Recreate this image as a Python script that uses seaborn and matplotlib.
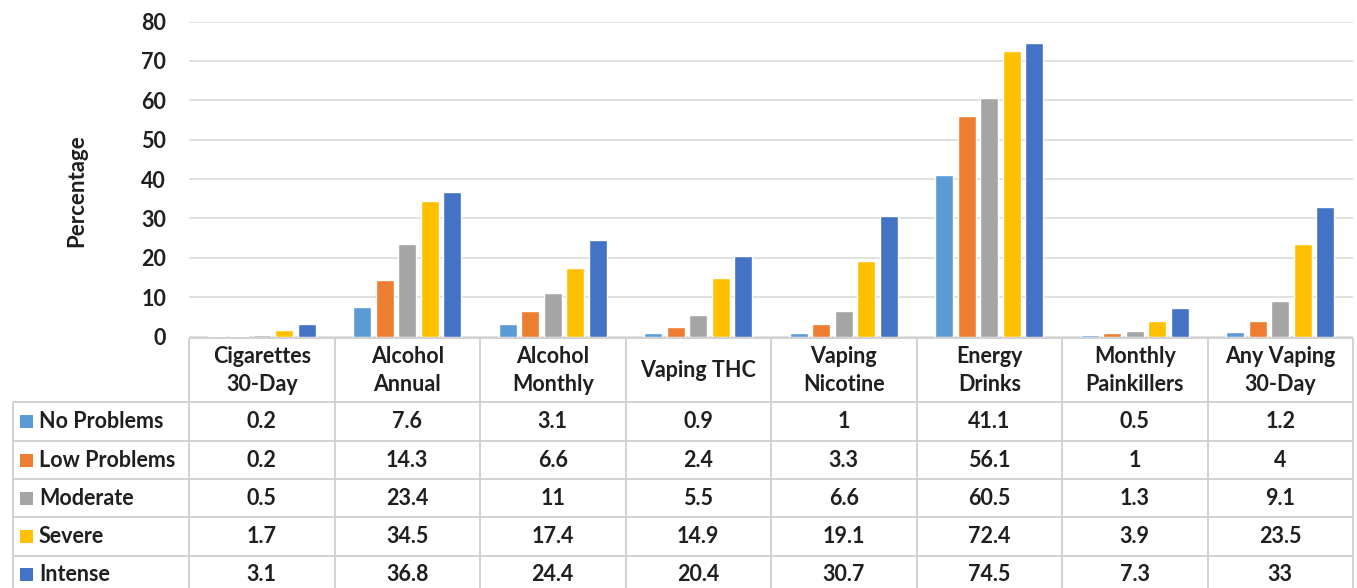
import matplotlib
matplotlib.use("Agg")
import matplotlib.pyplot as plt
from matplotlib.patches import Rectangle
import seaborn as sns
import pandas as pd

# ---- data -------------------------------------------------------------
categories = ["Cigarettes\n30-Day", "Alcohol\nAnnual", "Alcohol\nMonthly", "Vaping THC",
              "Vaping\nNicotine", "Energy\nDrinks", "Monthly\nPainkillers", "Any Vaping\n30-Day"]
groups = ["No Problems", "Low Problems", "Moderate", "Severe", "Intense"]

no_problems = [0.2, 7.6, 3.1, 0.9, 1, 41.1, 0.5, 1.2]
low_problems = [0.2, 14.3, 6.6, 2.4, 3.3, 56.1, 1, 4]
moderate = [0.5, 23.4, 11, 5.5, 6.6, 60.5, 1.3, 9.1]
severe = [1.7, 34.5, 17.4, 14.9, 19.1, 72.4, 3.9, 23.5]
intense = [3.1, 36.8, 24.4, 20.4, 30.7, 74.5, 7.3, 33]

y_ticks = [0, 10, 20, 30, 40, 50, 60, 70, 80]
y_label = "Percentage"

colors = ["#5B9BD5", "#ED7D31", "#A5A5A5", "#FFC000", "#4472C4"]

series = [no_problems, low_problems, moderate, severe, intense]
df = pd.DataFrame([
    {"category": c, "group": g, "pct": v}
    for g, vals in zip(groups, series)
    for c, v in zip(categories, vals)
])

# ---- style ------------------------------------------------------------
sns.set_theme(style="white")
plt.rcParams["font.family"] = ["Lato", "DejaVu Sans"]
plt.rcParams["font.weight"] = "bold"
TXT = "#1f1f1f"
FS = 15.5
GRID = "#D9D9D9"
BORDER = "#CFCFCF"

W, H = 1357, 588
fig = plt.figure(figsize=(W / 100, H / 100), dpi=100)

left_px, right_px = 189, 1353
base_px, top_px = 336.5, 21.5
ax = fig.add_axes([left_px / W, (H - base_px) / H,
                   (right_px - left_px) / W, (base_px - top_px) / H])

sns.barplot(data=df, x="category", y="pct", hue="group", hue_order=groups,
            order=categories, palette=colors, saturation=1, width=0.77, gap=0.2,
            legend=False, ax=ax, zorder=3)

ax.set_xlim(-0.5, len(categories) - 0.5)
ax.set_ylim(0, 80)
ax.set_yticks(y_ticks)
ax.set_yticklabels([str(t) for t in y_ticks], fontsize=FS, fontweight="bold", color=TXT)
ax.tick_params(axis="y", length=0, pad=16.5)
ax.set_xticks([])
ax.set_xlabel("")
ax.set_ylabel("")
for s in ax.spines.values():
    s.set_visible(False)
ax.yaxis.grid(True, color=GRID, linewidth=1.1, zorder=0)
ax.set_axisbelow(True)

fig.text(77 / W, 1 - 191 / H, y_label, rotation=90, ha="center", va="center",
         fontsize=FS + 0.5, fontweight="bold", color=TXT)

# ---- data table under the bars (pixel space overlay) -------------------
tab = fig.add_axes([0, 0, 1, 1])
tab.set_xlim(0, W)
tab.set_ylim(H, 0)
tab.axis("off")
tab.patch.set_alpha(0)

def col_px(x):
    return ax.transData.transform((x, 0))[0]

n = len(categories)
edges = [col_px(i - 0.5) for i in range(n + 1)]
centers = [col_px(i) for i in range(n)]
label_left = 12.7

header_top, header_bot = 337.5, 401.7
row_lines = [401.7, 441.0, 479.2, 517.4, 555.8, 594.0]

lk = dict(color=BORDER, linewidth=1.3, solid_capstyle="butt")
tab.plot([edges[0], edges[-1]], [header_top, header_top], **lk)
for yl in row_lines:
    tab.plot([label_left, edges[-1]], [yl, yl], **lk)
for xe in edges:
    tab.plot([xe, xe], [header_top, H], **lk)
tab.plot([label_left, label_left], [header_bot, H], **lk)

# column headers
for cx, cat in zip(centers, categories):
    lines = cat.split("\n")
    if len(lines) == 2:
        ys = [356.5, 384.5]
    else:
        ys = [370.5]
    for yy, ln in zip(ys, lines):
        tab.text(cx, yy, ln, ha="center", va="center", fontsize=FS,
                 fontweight="bold", color=TXT)

# rows: legend key + values
for r, (g, vals, col) in enumerate(zip(groups, series, colors)):
    yc = (row_lines[r] + row_lines[r + 1]) / 2
    tab.add_patch(Rectangle((20, yc - 6.5), 13, 13, facecolor=col, edgecolor="none"))
    tab.text(39, yc, g, ha="left", va="center", fontsize=FS,
             fontweight="bold", color=TXT)
    for cx, v in zip(centers, vals):
        tab.text(cx, yc, f"{v:g}", ha="center", va="center", fontsize=FS,
                 fontweight="bold", color=TXT)

fig.savefig("out.png", dpi=100, facecolor="white")
